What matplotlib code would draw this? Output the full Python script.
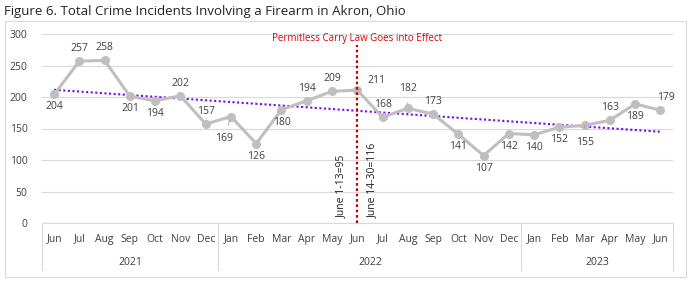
import matplotlib.pyplot as plt
import numpy as np
from matplotlib.patches import Rectangle

plt.rcParams['font.family'] = ['Open Sans', 'DejaVu Sans']

# data
months = ['Jun', 'Jul', 'Aug', 'Sep', 'Oct', 'Nov', 'Dec',
          'Jan', 'Feb', 'Mar', 'Apr', 'May', 'Jun', 'Jul', 'Aug', 'Sep', 'Oct', 'Nov', 'Dec',
          'Jan', 'Feb', 'Mar', 'Apr', 'May', 'Jun']
years = ['2021', '2022', '2023']
year_counts = [7, 12, 6]
incidents = [204, 257, 258, 201, 194, 202, 157,
             169, 126, 180, 194, 209, 211, 168, 182, 173, 141, 107, 142,
             140, 152, 155, 163, 189, 179]
# where each data label sits: (dx, dy) in points
label_offsets = [(0, -9), (0, 9), (0, 9), (0, -9), (0, -9), (0, 9), (0, 9),
                 (-5, -16), (0, -9), (0, -9), (0, 9), (0, 9), (14, 7), (0, 9), (0, 14), (0, 9), (0, -9), (0, -9), (0, -9),
                 (0, -9), (0, -9), (0, -12), (0, 9), (0, -9), (4, 9)]
leader = [7, 12, 14, 21]
law_month = 12
split_notes = ['June 1-13=95', 'June 14-30=116']

grey = '#BFBFBF'
text_col = '#404040'

fig = plt.figure(figsize=(6.91, 2.82), dpi=100)
fig.patches.append(Rectangle((5 / 691, 5 / 282), 681 / 691, 256 / 282, transform=fig.transFigure,
                             fill=False, edgecolor='#D9D9D9', linewidth=0.8))
fig.text(4 / 691, 1 - 11 / 282, 'Figure 6. Total Crime Incidents Involving a Firearm in Akron, Ohio',
         fontsize=9.5, color='#222222', va='center', ha='left')

ax = fig.add_axes([41.5 / 691, 1 - 223 / 282, 631.5 / 691, 189 / 282])
x = np.arange(len(incidents))
ax.set_xlim(-0.5, len(incidents) - 0.5)
ax.set_ylim(0, 300)
ax.set_yticks(range(0, 301, 50))
ax.grid(axis='y', color='#D9D9D9', linewidth=0.8)
ax.set_axisbelow(True)
for s in ['top', 'right', 'left']:
    ax.spines[s].set_visible(False)
ax.spines['bottom'].set_color('#D9D9D9')
ax.tick_params(axis='y', length=0, labelsize=7.5, labelcolor=text_col, pad=10)
ax.set_xticks([])

# trend line
coef = np.polyfit(x, incidents, 1)
ax.plot(x, np.polyval(coef, x), color='#7F00FF', linestyle=(0, (1, 1.2)), linewidth=1.5, zorder=2)

ax.plot(x, incidents, color=grey, linewidth=2.2, marker='o', markersize=5.5, zorder=3)

for i, (v, off) in enumerate(zip(incidents, label_offsets)):
    if i in leader:
        ax.annotate(str(v), (i, v), xytext=off, textcoords='offset points', ha='center', va='center',
                    fontsize=7.5, color=text_col,
                    arrowprops=dict(arrowstyle='-', color='#A6A6A6', linewidth=0.7, shrinkA=4, shrinkB=3))
    else:
        ax.annotate(str(v), (i, v), xytext=off, textcoords='offset points', ha='center', va='center',
                    fontsize=7.5, color=text_col)

# law line and notes
ax.plot([law_month, law_month], [0, 283], color='#C00000', linestyle=(0, (1.2, 1.2)), linewidth=1.6, zorder=4)
ax.text(law_month, 284, 'Permitless Carry Law Goes into Effect', color='#E00000', fontsize=7,
        ha='center', va='bottom')
ax.text(law_month - 0.62, 8, split_notes[0], rotation=90, fontsize=7.5, color='#222222', ha='center', va='bottom')
ax.text(law_month + 0.62, 8, split_notes[1], rotation=90, fontsize=7.5, color='#222222', ha='center', va='bottom')

# category axis
tr = ax.get_xaxis_transform()
for i, m in enumerate(months):
    ax.text(i, -0.085, m, transform=tr, ha='center', va='center', fontsize=7.5, color=text_col)
start = -0.5
for yr, n in zip(years, year_counts):
    ax.plot([start, start], [0, -0.25], transform=tr, color='#D9D9D9', linewidth=0.8, clip_on=False)
    ax.text(start + n / 2, -0.21, yr, transform=tr, ha='center', va='center', fontsize=7.5, color=text_col)
    start += n
ax.plot([start, start], [0, -0.25], transform=tr, color='#D9D9D9', linewidth=0.8, clip_on=False)

fig.savefig('out.png', dpi=100)
